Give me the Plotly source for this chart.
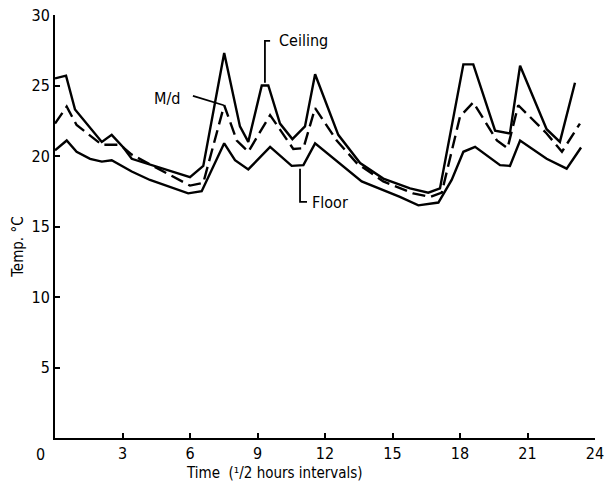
import plotly.graph_objects as go

# ---- data ----
ceiling_x = [0.00, 0.49, 0.89, 2.08, 2.52, 3.04, 3.41, 6.00, 6.59, 7.52, 8.22, 8.59,
             9.19, 9.48, 10.00, 10.55, 11.11, 11.56, 12.59, 13.56, 14.59, 15.78, 16.59,
             17.11, 18.15, 18.59, 19.56, 20.22, 20.67, 21.85, 22.44, 23.11]
ceiling_y = [25.5, 25.7, 23.3, 21.0, 21.5, 20.6, 19.8, 18.5, 19.3, 27.3, 22.1, 21.0,
             25.0, 25.0, 22.3, 21.2, 22.1, 25.8, 21.5, 19.5, 18.4, 17.7, 17.4,
             17.7, 26.5, 26.5, 21.8, 21.6, 26.4, 21.9, 21.0, 25.2]

md_x = [0.00, 0.52, 0.96, 2.08, 2.89, 3.41, 6.00, 6.59, 7.52, 8.08, 8.59, 9.56,
        10.59, 11.04, 11.56, 12.52, 13.41, 14.59, 15.92, 16.67, 17.19, 18.00, 18.59,
        19.64, 20.11, 20.59, 21.85, 22.53, 23.33]
md_y = [22.3, 23.5, 22.2, 20.8, 20.8, 20.1, 17.9, 18.1, 23.6, 21.1, 20.3, 22.9,
        20.5, 20.55, 23.4, 21.1, 19.5, 18.2, 17.35, 17.1, 17.4, 22.8, 23.8,
        21.1, 20.55, 23.6, 21.6, 20.3, 22.3]

floor_x = [0.00, 0.52, 0.96, 1.56, 2.08, 2.52, 3.41, 4.22, 5.92, 6.52, 7.52, 8.00,
           8.59, 9.56, 10.52, 11.04, 11.56, 13.63, 15.33, 16.15, 17.04, 17.63, 18.15,
           18.67, 19.78, 20.22, 20.67, 21.85, 22.74, 23.38]
floor_y = [20.4, 21.1, 20.3, 19.8, 19.6, 19.7, 18.9, 18.3, 17.35, 17.5, 20.9, 19.7,
           19.05, 20.65, 19.3, 19.35, 20.9, 18.2, 17.1, 16.5, 16.7, 18.3, 20.3,
           20.65, 19.35, 19.3, 21.1, 19.8, 19.1, 20.6]

x_ticks = [3, 6, 9, 12, 15, 18, 21, 24]
y_ticks = [5, 10, 15, 20, 25, 30]

FONT = "DejaVu Sans Condensed, Liberation Sans Narrow, DejaVu Sans, sans-serif"
LW = 2.4

fig = go.Figure()
fig.add_trace(go.Scatter(x=ceiling_x, y=ceiling_y, mode="lines",
                         line=dict(color="black", width=LW), name="Ceiling"))
fig.add_trace(go.Scatter(x=md_x, y=md_y, mode="lines",
                         line=dict(color="black", width=LW, dash="13px,6px"), name="M/d"))
fig.add_trace(go.Scatter(x=floor_x, y=floor_y, mode="lines",
                         line=dict(color="black", width=LW), name="Floor"))

# label leader lines
fig.add_trace(go.Scatter(x=[9.56, 9.33, 9.33], y=[28.16, 28.16, 25.2], mode="lines",
                         line=dict(color="black", width=1.8), hoverinfo="skip"))
fig.add_trace(go.Scatter(x=[10.89, 10.89, 11.2], y=[19.1, 16.75, 16.75], mode="lines",
                         line=dict(color="black", width=1.8), hoverinfo="skip"))
fig.add_trace(go.Scatter(x=[6.13, 7.5], y=[24.26, 23.6], mode="lines",
                         line=dict(color="black", width=1.8), hoverinfo="skip"))

ann = [
    dict(x=9.87, y=28.16, text="Ceiling", xanchor="left", yanchor="middle", showarrow=False),
    dict(x=4.31, y=24.11, text="M/d", xanchor="left", yanchor="middle", showarrow=False),
    dict(x=11.33, y=16.67, text="Floor", xanchor="left", yanchor="middle", showarrow=False),
    dict(x=-0.026, y=0, xref="paper", yref="paper", text="0", xanchor="center",
         yanchor="top", yshift=-5, showarrow=False),
    dict(x=-0.070, y=0.45, xref="paper", yref="paper", text="Temp. °C", textangle=-90,
         xanchor="center", yanchor="middle", showarrow=False,
         font=dict(size=15)),
    dict(x=0.407, y=0, xref="paper", yref="paper",
         text="Time  (¹/2 hours intervals)", xanchor="center", yanchor="top",
         yshift=-24, showarrow=False, font=dict(size=15)),
]

fig.update_layout(
    width=609, height=484,
    margin=dict(l=55, r=14, t=15, b=46, autoexpand=False),
    paper_bgcolor="white", plot_bgcolor="white",
    showlegend=False,
    font=dict(family=FONT, size=16, color="black"),
    annotations=ann,
    xaxis=dict(range=[0, 24], tickvals=x_ticks,
               ticks="inside", ticklen=5, tickwidth=1.5, tickcolor="black",
               showline=True, linecolor="black", linewidth=2,
               showgrid=False, zeroline=False, fixedrange=True),
    yaxis=dict(range=[0, 30], tickvals=y_ticks,
               ticks="inside", ticklen=5, tickwidth=1.5, tickcolor="black",
               showline=True, linecolor="black", linewidth=2,
               showgrid=False, zeroline=False, fixedrange=True),
)

fig.write_html("out.html", config={"displayModeBar": False},
               post_script="document.body.style.margin='0';")
